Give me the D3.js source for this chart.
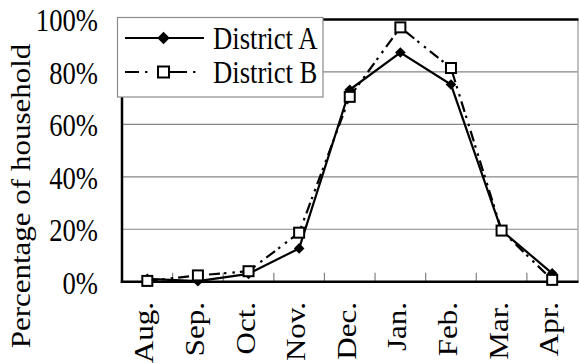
<!DOCTYPE html>
<html>
<head>
<meta charset="utf-8">
<script src="https://cdn.jsdelivr.net/npm/d3@7"></script>
</head>
<body style="margin:0;padding:0;background:#fff">
<svg id="chart" width="579" height="363" style="display:block"></svg>
<script>
// Monthly share of households, two districts
const months = ["Aug.", "Sep.", "Oct.", "Nov.", "Dec.", "Jan.", "Feb.", "Mar.", "Apr."];
const districtA = [1.1, 0.2, 3.0, 12.7, 73.2, 87.4, 75.2, 19.5, 3.2];
const districtB = [0.3, 2.4, 4.0, 18.7, 70.5, 97.0, 81.5, 19.5, 0.7];
const yTicks = [0, 20, 40, 60, 80, 100];
const seriesNames = ["District A", "District B"];

const svg = d3.select("#chart");
const plot = { left: 122, right: 577.5, top: 19.5, bottom: 281.7 };
const FONT = "Liberation Serif";
const fontSize = 31, squeeze = 0.86;   // glyphs drawn slightly narrow

const x = d3.scaleBand().domain(months).range([plot.left, plot.right]).padding(0);
const y = d3.scaleLinear().domain([0, 100]).range([plot.bottom, plot.top]);
const cx = d => x(d) + x.bandwidth() / 2;

// horizontal gridlines
svg.append("g").selectAll("line")
  .data(yTicks.filter(v => v > 0 && v < 100))
  .join("line")
  .attr("x1", plot.left).attr("x2", plot.right)
  .attr("y1", d => y(d)).attr("y2", d => y(d))
  .attr("stroke", "#868686").attr("stroke-width", 1.2);

// right frame edge (thin gray) and top edge (heavy)
svg.append("line")
  .attr("x1", plot.right + 0.5).attr("x2", plot.right + 0.5)
  .attr("y1", y(100)).attr("y2", y(0))
  .attr("stroke", "#808080").attr("stroke-width", 1);
svg.append("line")
  .attr("x1", plot.left).attr("x2", plot.right + 1)
  .attr("y1", y(100)).attr("y2", y(100))
  .attr("stroke", "#000").attr("stroke-width", 2.5);

// category separators rising from the x axis
svg.append("g").selectAll("line")
  .data(months.slice(1))
  .join("line")
  .attr("x1", d => x(d)).attr("x2", d => x(d))
  .attr("y1", y(0)).attr("y2", y(0) - 9)
  .attr("stroke", "#808080").attr("stroke-width", 1.2);

// axes lines
svg.append("line")
  .attr("x1", plot.left).attr("x2", plot.left)
  .attr("y1", y(100)).attr("y2", y(0) + 1.2)
  .attr("stroke", "#000").attr("stroke-width", 2.5);
svg.append("line")
  .attr("x1", plot.left - 1.2).attr("x2", plot.right + 1)
  .attr("y1", y(0)).attr("y2", y(0))
  .attr("stroke", "#000").attr("stroke-width", 2.5);

// y tick labels
svg.append("g").selectAll("text")
  .data(yTicks)
  .join("text")
  .attr("transform", d => `translate(98,${y(d) + 1}) scale(${squeeze},1)`)
  .attr("dy", "0.35em")
  .attr("text-anchor", "end")
  .attr("font-family", FONT)
  .attr("font-size", fontSize)
  .text(d => d + "%");

// x tick labels (rotated)
svg.append("g").selectAll("text")
  .data(months)
  .join("text")
  .attr("transform", d => `translate(${cx(d) + 6},302) scale(${squeeze},1) rotate(-90)`)
  .attr("text-anchor", "end")
  .attr("font-family", FONT)
  .attr("font-size", fontSize)
  .text(d => d);

// y axis title
svg.append("text")
  .attr("transform", `translate(30,196) scale(${squeeze},1) rotate(-90)`)
  .attr("text-anchor", "middle")
  .attr("font-family", FONT)
  .attr("font-size", fontSize)
  .text("Percentage of household");

// series
const line = d3.line().x((d, i) => cx(months[i])).y(d => y(d));

svg.append("path")
  .datum(districtB)
  .attr("d", line)
  .attr("fill", "none").attr("stroke", "#000").attr("stroke-width", 2.2)
  .attr("stroke-dasharray", "11,4,2.5,6,2.5,5");

svg.append("path")
  .datum(districtA)
  .attr("d", line)
  .attr("fill", "none").attr("stroke", "#000").attr("stroke-width", 2.2);

const diamond = d3.symbol().type(d3.symbolDiamond2).size(72);

svg.append("g").selectAll("path")
  .data(districtA)
  .join("path")
  .attr("transform", (d, i) => `translate(${cx(months[i])},${y(d)})`)
  .attr("d", diamond)
  .attr("fill", "#000");

const sq = 10;
svg.append("g").selectAll("rect")
  .data(districtB)
  .join("rect")
  .attr("x", (d, i) => cx(months[i]) - sq / 2)
  .attr("y", d => y(d) - sq / 2)
  .attr("width", sq).attr("height", sq)
  .attr("fill", "#fff").attr("stroke", "#000").attr("stroke-width", 2);

// legend
const lg = svg.append("g");
lg.append("rect")
  .attr("x", 117.5).attr("y", 17.5).attr("width", 205.5).attr("height", 79.5)
  .attr("fill", "#fff").attr("stroke", "#8a8a8a").attr("stroke-width", 1.2);

const rowY = [38, 72];
lg.append("line")
  .attr("x1", 125).attr("x2", 204).attr("y1", rowY[0]).attr("y2", rowY[0])
  .attr("stroke", "#000").attr("stroke-width", 2.2);
lg.append("path")
  .attr("transform", `translate(163.5,${rowY[0]})`)
  .attr("d", d3.symbol().type(d3.symbolDiamond2).size(100))
  .attr("fill", "#000");

lg.append("line")
  .attr("x1", 125).attr("x2", 204).attr("y1", rowY[1]).attr("y2", rowY[1])
  .attr("stroke", "#000").attr("stroke-width", 2.2)
  .attr("stroke-dasharray", "14,6,2.5,11.5,28,6,2.5,10");
lg.append("rect")
  .attr("x", 163.5 - 5.5).attr("y", rowY[1] - 5.5).attr("width", 11).attr("height", 11)
  .attr("fill", "#fff").attr("stroke", "#000").attr("stroke-width", 2);

lg.selectAll("text.lbl")
  .data(seriesNames)
  .join("text")
  .attr("class", "lbl")
  .attr("transform", (d, i) => `translate(213,${[49, 83][i]}) scale(${squeeze},1)`)
  .attr("font-family", FONT)
  .attr("font-size", fontSize)
  .text(d => d);
</script>
</body>
</html>
